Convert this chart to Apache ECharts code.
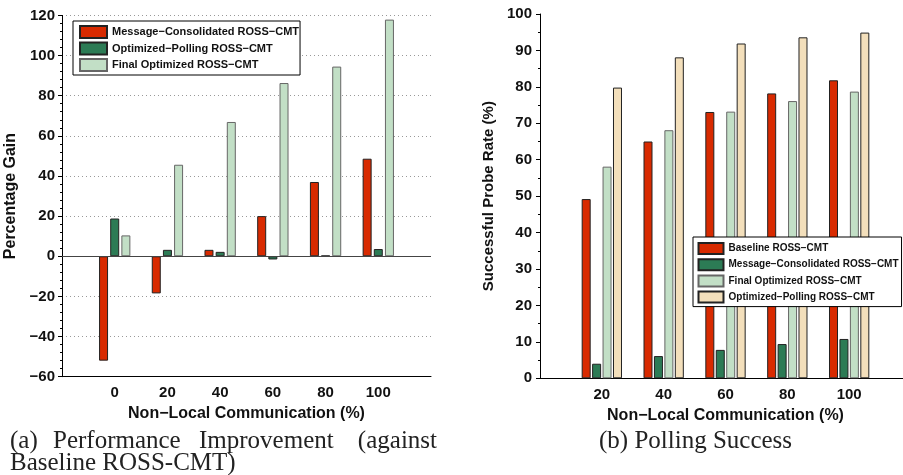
<!DOCTYPE html>
<html>
<head>
<meta charset="utf-8">
<script src="https://cdn.jsdelivr.net/npm/echarts@6/dist/echarts.min.js"></script>
<style>
  body { margin: 0; background: #fff; }
  #gainChart { position: absolute; left: 0; top: 0; width: 450px; height: 475px; }
  #probeChart { position: absolute; left: 450px; top: 0; width: 453px; height: 475px; }
</style>
</head>
<body>
<div id="gainChart"></div>
<div id="probeChart"></div>
<script>
// (a) gain against baseline
const gainCategories = ["0", "20", "40", "60", "80", "100"];
const gainMsgConsolidated = [-52, -18.5, 3.2, 20, 37, 48.6];
const gainOptPolling = [18.8, 3.2, 2.2, -1.6, 0.3, 3.6];
const gainFinalOptimized = [10.4, 45.6, 66.9, 86.3, 94.5, 117.9];
const gainYTicks = { min: -60, max: 120, step: 20 };

// (b) polling success
const probeCategories = ["20", "40", "60", "80", "100"];
const probeBaseline = [49.2, 65.0, 73.1, 78.2, 81.8];
const probeMsgConsolidated = [4.0, 6.1, 7.8, 9.4, 10.8];
const probeFinalOptimized = [58.1, 68.1, 73.2, 76.1, 78.7];
const probeOptPolling = [79.8, 88.1, 91.9, 93.6, 94.9];
const probeYTicks = { min: 0, max: 100, step: 10 };

const FONT = "Liberation Sans";
const SERIF = "Liberation Serif";
const RED = "#d82a00", DGREEN = "#2c7b55", LGREEN = "#c2dfc6", BEIGE = "#f3dfbb";

// pad one empty slot on each side so the axis runs from -20..120 / 0..120
function padCats(cats, first, last) { return [first].concat(cats, [last]); }
function padVals(vals, before) {
  let out = [];
  for (let i = 0; i < before; i++) out.push(null);
  return out.concat(vals, [null]);
}

function barSeries(name, data, color, border, gap) {
  return {
    name: name,
    type: "bar",
    data: data,
    barWidth: 9,
    barGap: gap,
    itemStyle: { color: color, borderColor: border, borderWidth: 1 },
    emphasis: { disabled: true },
  };
}

function axisLabelStyle(size) {
  return { fontFamily: FONT, fontWeight: "bold", fontSize: size, color: "#111" };
}

// ---------- left chart ----------
let gainChart = echarts.init(document.getElementById("gainChart"));
let gainX = padCats(gainCategories, "-20", "120");
let gainOption = {
  animation: false,
  backgroundColor: "#fff",
  grid: { left: 62, top: 15.4, width: 369, height: 361.3, containLabel: false, outerBoundsMode: "none" },
  legend: {
    orient: "vertical",
    left: 73,
    top: 21,
    icon: "rect",
    itemWidth: 27,
    itemHeight: 12,
    itemGap: 2.5,
    padding: [4, 1, 3, 6],
    borderColor: "#000",
    borderWidth: 1,
    backgroundColor: "#fff",
    textStyle: { fontFamily: FONT, fontWeight: "bold", fontSize: 11, lineHeight: 12, color: "#111" },
  },
  xAxis: {
    type: "category",
    data: gainX,
    boundaryGap: false,
    axisLine: { onZero: false, lineStyle: { color: "#000", width: 1 } },
    axisTick: { show: false },
    axisLabel: Object.assign(axisLabelStyle(15), {
      interval: 0,
      margin: 9,
      formatter: function (v, i) { return i === 0 || i === gainX.length - 1 ? "" : v; },
    }),
    name: "Non\u2212Local Communication (%)",
    nameLocation: "middle",
    nameGap: 25,
    nameTextStyle: axisLabelStyle(16),
  },
  yAxis: {
    type: "value",
    min: gainYTicks.min,
    max: gainYTicks.max,
    interval: gainYTicks.step,
    axisLine: { show: true, lineStyle: { color: "#000", width: 1 } },
    axisTick: { show: true, length: 4, lineStyle: { color: "#000" } },
    minorTick: { show: true, splitNumber: 5, length: 2, lineStyle: { color: "#000" } },
    axisLabel: Object.assign(axisLabelStyle(15), {
      margin: 7,
      formatter: function (v) { return String(v).replace("-", "\u2212"); },
    }),
    splitLine: { show: true, lineStyle: { color: "#999", type: [1, 3], width: 1 } },
    name: "Percentage Gain",
    nameLocation: "middle",
    nameGap: 37,
    nameTextStyle: axisLabelStyle(16),
  },
  series: [
    Object.assign(barSeries("Message\u2212Consolidated ROSS\u2212CMT", padVals(gainMsgConsolidated, 1), RED, "#222", "24%"), {
      markLine: {
        silent: true,
        symbol: "none",
        label: { show: false },
        lineStyle: { color: "#444", type: "solid", width: 1 },
        data: [{ yAxis: 0 }],
      },
    }),
    barSeries("Optimized\u2212Polling ROSS\u2212CMT", padVals(gainOptPolling, 1), DGREEN, "#222", "24%"),
    barSeries("Final Optimized ROSS\u2212CMT", padVals(gainFinalOptimized, 1), LGREEN, "#666", "24%"),
  ],
  graphic: [
    { type: "text", left: 10, top: 429, style: { text: "(a)", font: "25px " + SERIF, fill: "#222" } },
    { type: "text", left: 53, top: 429, style: { text: "Performance", font: "25px " + SERIF, fill: "#222" } },
    { type: "text", left: 199, top: 429, style: { text: "Improvement", font: "25px " + SERIF, fill: "#222" } },
    { type: "text", right: 13, top: 429, style: { text: "(against", font: "25px " + SERIF, fill: "#222" } },
    { type: "text", left: 10, top: 451, style: { text: "Baseline ROSS-CMT)", font: "25px " + SERIF, fill: "#222" } },
  ],
};
gainChart.setOption(gainOption);

// ---------- right chart ----------
let probeChart = echarts.init(document.getElementById("probeChart"));
let probeX = padCats(probeCategories, "0", "120");
let probeOption = {
  animation: false,
  backgroundColor: "#fff",
  grid: { left: 90, top: 14, width: 371, height: 364.3, containLabel: false, outerBoundsMode: "none" },
  legend: {
    orient: "vertical",
    left: 243,
    top: 237,
    icon: "rect",
    itemWidth: 25,
    itemHeight: 11,
    itemGap: 3.2,
    padding: [5, 3, 3, 4.5],
    borderColor: "#000",
    borderWidth: 1,
    backgroundColor: "#fff",
    textStyle: { fontFamily: FONT, fontWeight: "bold", fontSize: 10, lineHeight: 11, color: "#111" },
  },
  xAxis: {
    type: "category",
    data: probeX,
    boundaryGap: false,
    axisLine: { lineStyle: { color: "#000", width: 1 } },
    axisTick: { show: false },
    axisLabel: Object.assign(axisLabelStyle(15), {
      interval: 0,
      margin: 9,
      formatter: function (v, i) { return i === 0 || i === probeX.length - 1 ? "" : v; },
    }),
    name: "Non\u2212Local Communication (%)",
    nameLocation: "middle",
    nameGap: 24,
    nameTextStyle: axisLabelStyle(16),
  },
  yAxis: {
    type: "value",
    min: probeYTicks.min,
    max: probeYTicks.max,
    interval: probeYTicks.step,
    axisLine: { show: true, lineStyle: { color: "#000", width: 1 } },
    axisTick: { show: true, length: 4, lineStyle: { color: "#000" } },
    minorTick: { show: true, splitNumber: 2, length: 2, lineStyle: { color: "#000" } },
    axisLabel: Object.assign(axisLabelStyle(15), { margin: 8 }),
    splitLine: { show: false },
    name: "Successful Probe Rate (%)",
    nameLocation: "middle",
    nameGap: 36,
    nameTextStyle: axisLabelStyle(15),
  },
  series: [
    barSeries("Baseline ROSS\u2212CMT", padVals(probeBaseline, 1), RED, "#222", "16%"),
    barSeries("Message\u2212Consolidated ROSS\u2212CMT", padVals(probeMsgConsolidated, 1), DGREEN, "#222", "16%"),
    barSeries("Final Optimized ROSS\u2212CMT", padVals(probeFinalOptimized, 1), LGREEN, "#666", "16%"),
    barSeries("Optimized\u2212Polling ROSS\u2212CMT", padVals(probeOptPolling, 1), BEIGE, "#222", "16%"),
  ],
  graphic: [
    { type: "text", left: 149, top: 429, style: { text: "(b) Polling Success", font: "25px " + SERIF, fill: "#222" } },
  ],
};
probeChart.setOption(probeOption);

window.onresize = function () {
  gainChart.resize();
  probeChart.resize();
};
</script>
</body>
</html>
